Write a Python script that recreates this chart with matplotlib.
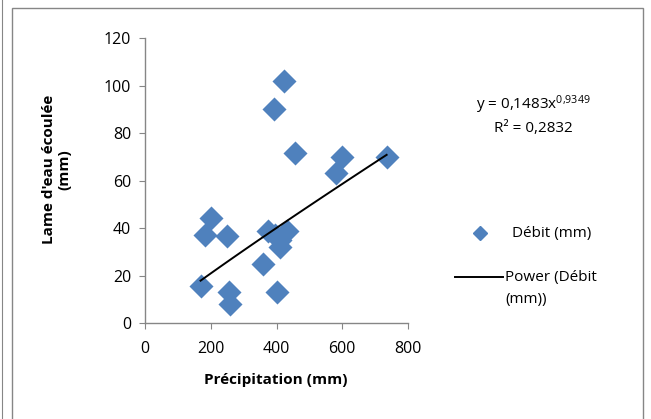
import numpy as np
import matplotlib.pyplot as plt
from matplotlib.patches import Rectangle
from matplotlib.lines import Line2D

plt.rcParams["font.family"] = ["Open Sans", "DejaVu Sans"]
plt.rcParams["mathtext.default"] = "regular"

# Precipitation (mm) and runoff depth (mm)
precip = [424, 393, 457, 598, 735, 581, 200, 184, 249, 375, 396, 410, 432, 412,
          358, 169, 254, 259, 400]
debit = [102.1, 90.4, 71.8, 69.9, 69.9, 63.1, 44.5, 37.2, 36.9, 38.9, 37.2, 35.0,
         38.9, 32.0, 24.8, 15.8, 13.0, 8.0, 13.0]

# Power trendline coefficients
coef_a = 0.1483
coef_b = 0.9349
r2 = 0.2832

x_ticks = [0, 200, 400, 600, 800]
y_ticks = [0, 20, 40, 60, 80, 100, 120]

blue = "#4F81BD"
grey = "#868686"

fig = plt.figure(figsize=(6.51, 4.19), dpi=100)

# chart frame
fig.patches.append(Rectangle((12 / 651, -0.01), 631 / 651, 1 - 8 / 419 + 0.01,
                             transform=fig.transFigure, fill=False,
                             edgecolor=grey, linewidth=1.0))
fig.lines.append(Line2D([1.5 / 651, 1.5 / 651], [0, 1], transform=fig.transFigure,
                        color=grey, linewidth=0.8))

ax = fig.add_axes([145 / 651, 1 - 323.3 / 419, 263 / 651, 285 / 419])

ax.scatter(precip, debit, marker="D", s=150, color=blue, linewidths=0, zorder=2)

xs = np.linspace(min(precip), max(precip), 100)
ax.plot(xs, coef_a * xs ** coef_b, color="black", linewidth=1.4, zorder=3)

ax.set_xlim(0, 800)
ax.set_ylim(0, 120)
ax.set_xticks(x_ticks)
ax.set_yticks(y_ticks)

for s in ["top", "right"]:
    ax.spines[s].set_visible(False)
for s in ["left", "bottom"]:
    ax.spines[s].set_color(grey)
    ax.spines[s].set_linewidth(1.0)
ax.tick_params(direction="out", length=4, color=grey, labelsize=11.5, pad=6)
ax.tick_params(axis="x", pad=9)
ax.spines["left"].set_zorder(1)

ax.set_xlabel("Précipitation (mm)", fontsize=11, fontweight="bold")
ax.xaxis.label.set_va("center")
ax.xaxis.set_label_coords(0.498, -0.199)
ax.set_ylabel("Lame d'eau écoulée\n(mm)", fontsize=11, fontweight="bold",
              linespacing=1.1)
ax.yaxis.label.set_va("center")
ax.yaxis.set_label_coords(-0.335, 0.54)


def fr(v):
    return f"{v:.4f}".replace(".", ",")


fig.text(533 / 651, 1 - 105 / 419,
         "y = " + fr(coef_a) + "x$^{" + fr(coef_b).replace(",", "{,}") + "}$",
         ha="center", va="center", fontsize=11)
fig.text(533 / 651, 1 - 128 / 419, "R² = " + fr(r2),
         ha="center", va="center", fontsize=11)

# legend
fig.lines.append(Line2D([480 / 651], [1 - 233 / 419], transform=fig.transFigure,
                        marker="D", markersize=7, color=blue, linestyle="none"))
fig.text(512 / 651, 1 - 233 / 419, "Débit (mm)", ha="left", va="center", fontsize=11)
fig.lines.append(Line2D([455 / 651, 503 / 651], [1 - 277 / 419] * 2,
                        transform=fig.transFigure, color="black", linewidth=1.4))
fig.text(505 / 651, 1 - 277 / 419, "Power (Débit", ha="left", va="center", fontsize=11)
fig.text(505 / 651, 1 - 299 / 419, "(mm))", ha="left", va="center", fontsize=11)

fig.savefig("out.png", dpi=100)
